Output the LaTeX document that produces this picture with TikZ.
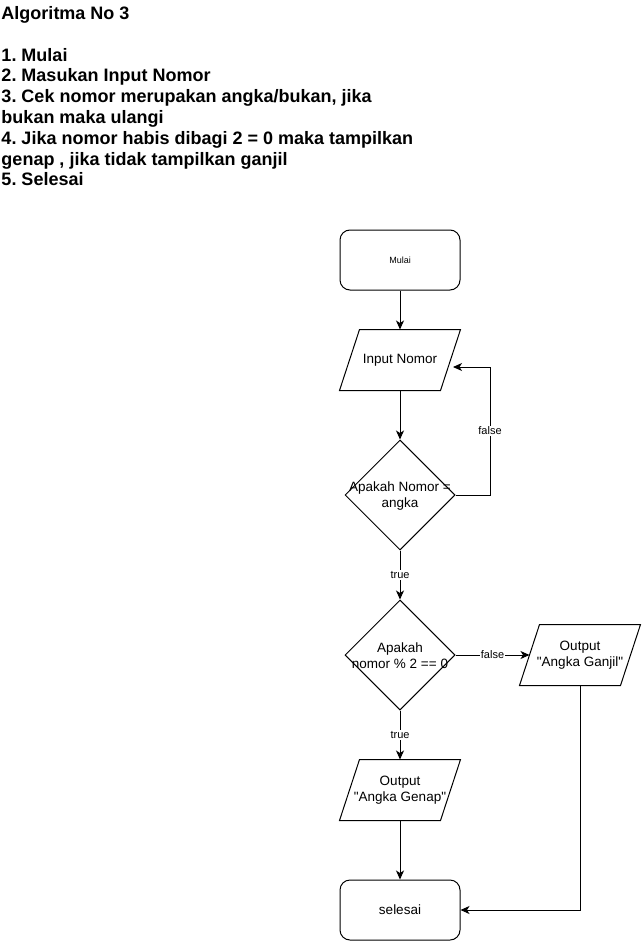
\documentclass[tikz,border=0pt]{standalone}
\usepackage{fontspec}
\setmainfont{Liberation Sans}
\usetikzlibrary{positioning}
\usetikzlibrary{shapes.geometric}
\usetikzlibrary{arrows.meta}

\begin{document}
\frenchspacing
\begin{tikzpicture}[x=1pt, y=-1pt, line width=1pt,
  every node/.style={font=\fontsize{13.5}{16.2}\selectfont},
  terminal/.style={draw, rectangle, rounded corners=10pt, minimum width=120pt, minimum height=60pt, inner sep=0pt},
  io/.style={rectangle, minimum width=120pt, minimum height=60pt, inner sep=0pt, align=center,
    append after command={\pgfextra{\let\ionode\tikzlastnode
      \draw ([xshift=20pt]\ionode.north west) -- (\ionode.north east)
        -- ([xshift=-20pt]\ionode.south east) -- (\ionode.south west) -- cycle;
      \coordinate (\ionode-w) at ([xshift=10pt]\ionode.west);}}},
  decision/.style={draw, diamond, minimum width=110pt, minimum height=110pt, inner sep=0pt},
  lbl/.style={fill=white, inner sep=1pt, font=\fontsize{11}{13}\selectfont},
  panah/.style={-{Stealth[length=9pt,width=8pt,inset=2.5pt]}}]
              \useasboundingbox (0,0) rectangle (641,941);

              % Judul
              \node[anchor=north west, inner sep=0pt, align=left, font=\bfseries\fontsize{18}{20.8}\selectfont] (judul) at (1,6)
                {Algoritma No 3\\[20.8pt]
                 1. Mulai\\
                 2. Masukan Input Nomor\\
                 3. Cek nomor merupakan angka/bukan, jika\\
                 bukan maka ulangi\\
                 4. Jika nomor habis dibagi 2 = 0 maka tampilkan\\
                 genap , jika tidak tampilkan ganjil\\
                 5. Selesai};

              % Simpul
              \node[terminal, font=\fontsize{9}{11}\selectfont] (mulai) at (400,260) {Mulai};
              \node[io] (input) at (400,360) {Input Nomor};
              \node[decision] (cekangka) at (400,495) {};
              \node[align=center] (cekangkateks) at (400,496) {Apakah Nomor =\\angka};
              \node[decision] (cekmod) at (400,655) {};
              \node[align=center] (cekmodteks) at (400,656) {Apakah\\nomor \% 2 == 0};
              \node[io] (genap) at (400,790) {Output\\\textquotedbl Angka Genap\textquotedbl};
              \node[io] (ganjil) at (580,655) {Output\\\textquotedbl Angka Ganjil\textquotedbl};
              \node[terminal] (selesai) at (400,910) {selesai};
              \coordinate (balik) at (490,367);
              \coordinate (masuk) at (453,367);

              % Panah
              \draw[panah] (mulai) -- (input);
              \draw[panah] (input) -- (cekangka);
              \draw[panah] (cekangka.east) -| node[lbl, pos=0.75] (lfalse1) {false} (balik) -- (masuk);
              \draw[panah] (cekangka) -- node[lbl] (ltrue1) {true} (cekmod);
              \draw[panah] (cekmod) -- node[lbl] (lfalse2) {false} (ganjil-w);
              \draw[panah] (cekmod) -- node[lbl] (ltrue2) {true} (genap);
              \draw[panah] (genap) -- (selesai);
              \draw[panah] (ganjil) |- (selesai);
            \end{tikzpicture}
\end{document}
